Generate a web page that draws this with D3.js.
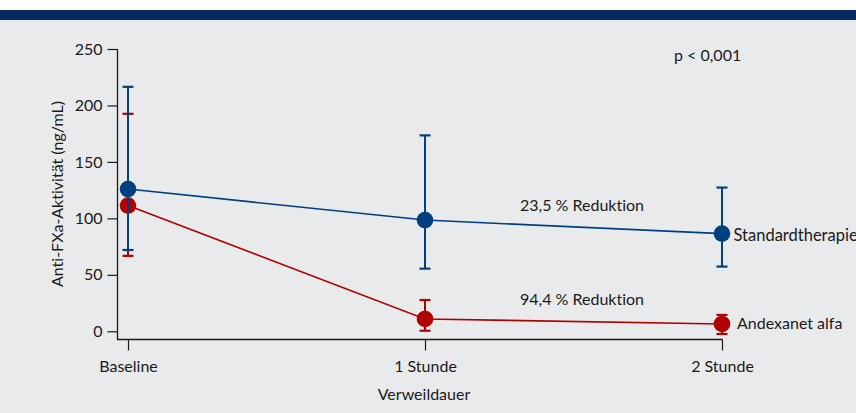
<!DOCTYPE html>
<html><head><meta charset="utf-8">
<script src="https://cdn.jsdelivr.net/npm/d3@7"></script>
<style>
html,body{margin:0;padding:0;background:#fff;}
svg{display:block;}
text{font-family:Lato,"Open Sans",sans-serif;fill:#1a1a1a;font-variant-ligatures:none;font-feature-settings:"liga" 0,"dlig" 0;}
</style></head>
<body>
<svg id="c" width="856" height="413"></svg>
<script>
const categories = ["Baseline", "1 Stunde", "2 Stunde"];
const yTicks = [0, 50, 100, 150, 200, 250];
const standardMean = [126, 98.5, 86.5];
const standardUpper = [216.5, 173.5, 127.3];
const standardLower = [72, 55.5, 57.3];
const andexMean = [111.4, 10.9, 6.5];
const andexUpper = [192.6, 27.7, 14.5];
const andexLower = [66.8, 0.5, -2.4];
const seriesNames = ["Standardtherapie", "Andexanet alfa"];
const annotations = ["p < 0,001", "23,5 % Reduktion", "94,4 % Reduktion"];
const xTitle = "Verweildauer";
const yTitle = "Anti-FXa-Aktivität (ng/mL)";

const svg = d3.select("#c");
svg.append("rect").attr("width",856).attr("height",413).attr("fill","#e9eaec");
svg.append("rect").attr("width",856).attr("height",10).attr("fill","#ffffff");
svg.append("rect").attr("y",10).attr("width",856).attr("height",10).attr("fill","#062a62");

const x = d3.scalePoint().domain(categories).range([128, 722]);
const y = d3.scaleLinear().domain([0, 250]).range([331.3, 49]);

const axisColor = "#1a1a1a";
svg.append("line").attr("x1",117.5).attr("x2",117.5).attr("y1",y(250)).attr("y2",339.5).attr("stroke",axisColor).attr("stroke-width",1.3);
svg.append("line").attr("x1",117).attr("x2",x("2 Stunde")+0.5).attr("y1",339.5).attr("y2",339.5).attr("stroke",axisColor).attr("stroke-width",1.3);

const yAxis = svg.append("g").attr("transform","translate(117.5,0)")
  .call(d3.axisLeft(y).tickValues(yTicks).tickSize(10).tickPadding(5).tickFormat(d3.format("d")));
yAxis.select(".domain").remove();
yAxis.selectAll("line").attr("stroke",axisColor).attr("stroke-width",1.2);
yAxis.selectAll("text").attr("font-size",16).attr("fill","#1a1a1a");

const xAxis = svg.append("g").attr("transform","translate(0,339.5)")
  .call(d3.axisBottom(x).tickSize(11).tickPadding(10));
xAxis.select(".domain").remove();
xAxis.selectAll("line").attr("stroke",axisColor).attr("stroke-width",1.2);
xAxis.selectAll("text").attr("font-size",16).attr("fill","#1a1a1a");
svg.selectAll("g").attr("font-family",null);

svg.append("text").attr("x",424).attr("y",400).attr("text-anchor","middle").attr("font-size",16).text(xTitle);
svg.append("text").attr("transform","translate(63,194) rotate(-90)").attr("text-anchor","middle").attr("font-size",16).text(yTitle);

function drawSeries(mean, lo, hi, color){
  const data = categories.map((c,i)=>({c, m:mean[i], lo:lo[i], hi:hi[i]}));
  const g = svg.append("g");
  g.append("path").datum(data)
    .attr("d", d3.line().x(d=>x(d.c)).y(d=>y(d.m)))
    .attr("fill","none").attr("stroke",color).attr("stroke-width",1.6);
  g.selectAll(".eb").data(data).enter().append("line")
    .attr("x1",d=>x(d.c)).attr("x2",d=>x(d.c))
    .attr("y1",d=>y(d.lo)).attr("y2",d=>y(d.hi))
    .attr("stroke",color).attr("stroke-width",2);
  ["lo","hi"].forEach(k=>{
    g.selectAll(".cap"+k).data(data).enter().append("line")
      .attr("x1",d=>x(d.c)-5.5).attr("x2",d=>x(d.c)+5.5)
      .attr("y1",d=>y(d[k])).attr("y2",d=>y(d[k]))
      .attr("stroke",color).attr("stroke-width",2.2);
  });
  g.selectAll("circle").data(data).enter().append("circle")
    .attr("cx",d=>x(d.c)).attr("cy",d=>y(d.m)).attr("r",8.3).attr("fill",color);
}
const blue = "#003f80", red = "#b00000";
drawSeries(andexMean, andexLower, andexUpper, red);
drawSeries(standardMean, standardLower, standardUpper, blue);

svg.append("text").attr("x",733.5).attr("y",y(standardMean[2])+7.5).attr("font-size",16.5).text(seriesNames[0]);
svg.append("text").attr("x",737).attr("y",y(andexMean[2])+5.5).attr("font-size",16).text(seriesNames[1]);

svg.append("text").attr("x",674).attr("y",61).attr("font-size",16).text(annotations[0]);
svg.append("text").attr("x",520).attr("y",211).attr("font-size",16).text(annotations[1]);
svg.append("text").attr("x",520).attr("y",305).attr("font-size",16).text(annotations[2]);
</script>
</body></html>
